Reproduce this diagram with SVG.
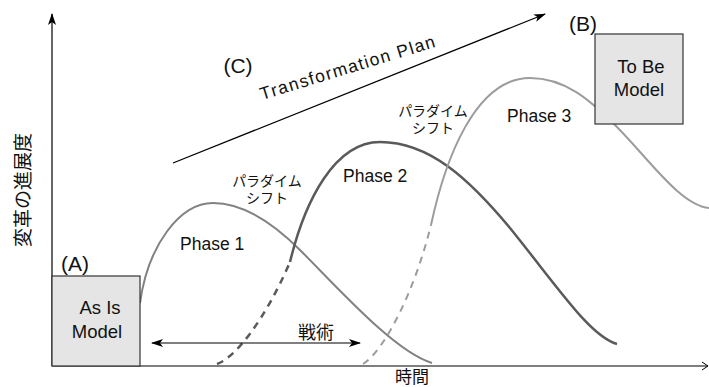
<svg xmlns="http://www.w3.org/2000/svg" width="709" height="387" viewBox="0 0 709 387">
<defs>
<marker id="ah" viewBox="0 0 12 8" refX="11" refY="4" markerWidth="12" markerHeight="8" markerUnits="userSpaceOnUse" orient="auto-start-reverse">
<path d="M0,0 L12,4 L0,8 L3,4 z" fill="#000"/>
</marker>
<marker id="open" viewBox="0 0 8 10" refX="7" refY="5" markerWidth="8" markerHeight="10" markerUnits="userSpaceOnUse" orient="auto">
<path d="M1,1 L7,5 L1,9" fill="none" stroke="#000" stroke-width="1"/>
</marker>
</defs>
<style>
.t{font-family:"Liberation Sans",Arial,sans-serif;fill:#111}
.j{font-family:"Liberation Sans","Noto Sans CJK JP","Noto Sans CJK SC",sans-serif;fill:#111}
.box{fill:#e5e5e5;stroke:#333;stroke-width:1.2}
.ax{stroke:#000;stroke-width:1.2;fill:none}
.p1{fill:none;stroke:#828282;stroke-width:2}
.p2{fill:none;stroke:#5a5a5a;stroke-width:2.5}
.p3{fill:none;stroke:#9c9c9c;stroke-width:2}
.dash{stroke-dasharray:7,6}
</style>
<rect width="709" height="387" fill="#fff"/>
<g id="axes">
<line class="ax" x1="52" y1="366" x2="52" y2="14" marker-end="url(#ah)"/>
<line class="ax" x1="52" y1="366" x2="708" y2="366" marker-end="url(#open)"/>
<text class="j" font-size="19" text-anchor="middle" transform="translate(30,190) rotate(-90)">変革の進展度</text>
<text class="j" font-size="17" x="412" y="383" text-anchor="middle">時間</text>
</g>
<g id="curves">
<path id="phase1-curve" class="p1" d="M140,303 C148,245 180,203 213,203 C245,203 275,225 300,250 C340,290 395,352 432,363"/>
<path id="phase2-dash" class="p2 dash" d="M217,364 C235,358 265,320 290,262"/>
<path id="phase2-curve" class="p2" d="M290,262 C305,200 335,142 380,142 C430,142 470,180 510,228 C560,290 590,336 617,344"/>
<path id="phase3-dash" class="p3 dash" d="M363,364 C385,350 415,290 431,225"/>
<path id="phase3-curve" class="p3" d="M431,225 C445,160 475,78 530,78 C565,78 590,100 615,125 C650,160 680,205 709,208"/>
</g>
<g id="boxA">
<rect class="box" x="52" y="276" width="88" height="90"/>
<text class="t" font-size="18.5" x="100" y="314" text-anchor="middle">As Is</text>
<text class="t" font-size="18.5" x="97" y="338" text-anchor="middle">Model</text>
<text class="t" font-size="21" x="75" y="271" text-anchor="middle">(A)</text>
</g>
<g id="boxB">
<rect class="box" x="595" y="34" width="88" height="90"/>
<text class="t" font-size="18.5" x="641" y="73" text-anchor="middle">To Be</text>
<text class="t" font-size="18.5" x="639" y="96" text-anchor="middle">Model</text>
<text class="t" font-size="21" x="583" y="31" text-anchor="middle">(B)</text>
</g>
<g id="planC">
<line class="ax" x1="173" y1="163" x2="545" y2="14" marker-end="url(#ah)"/>
<text class="t" font-size="21" x="238" y="73" text-anchor="middle">(C)</text>
<text class="t" font-size="17.5" letter-spacing="1.4" transform="translate(262,100) rotate(-17)">Transformation Plan</text>
</g>
<g id="tactics">
<line class="ax" x1="152" y1="343" x2="360" y2="343" marker-start="url(#ah)" marker-end="url(#ah)"/>
<text class="j" font-size="18" x="316" y="339" text-anchor="middle">戦術</text>
</g>
<g id="labels">
<text class="t" font-size="17.5" x="180" y="250">Phase 1</text>
<text class="t" font-size="17.5" x="343" y="182">Phase 2</text>
<text class="t" font-size="17.5" x="507" y="122">Phase 3</text>
<text class="j" font-size="14" text-anchor="middle"><tspan x="267" y="186">パラダイム</tspan><tspan x="267" y="203">シフト</tspan></text>
<text class="j" font-size="14" text-anchor="middle"><tspan x="433" y="116">パラダイム</tspan><tspan x="433" y="133">シフト</tspan></text>
</g>
</svg>
